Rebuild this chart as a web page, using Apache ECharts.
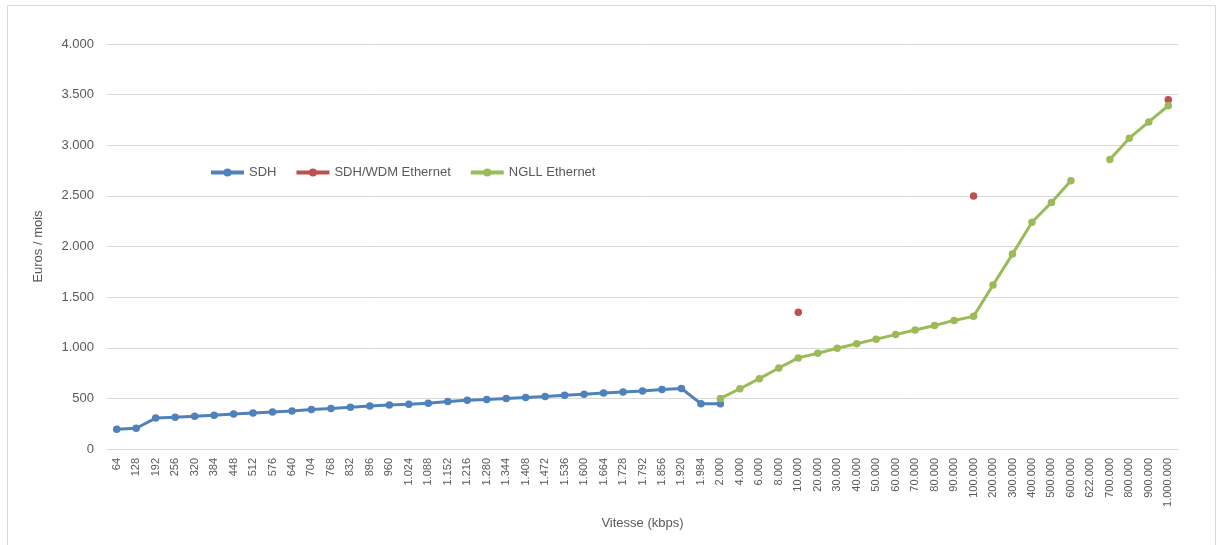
<!DOCTYPE html>
<html>
<head>
<meta charset="utf-8">
<script src="https://cdn.jsdelivr.net/npm/echarts@6/dist/echarts.min.js"></script>
<style>
  html, body { margin: 0; padding: 0; background: #ffffff; }
  #chart { width: 1221px; height: 545px; }
</style>
</head>
<body>
<div id="chart"></div>
<script>
// Line speeds (kbps), written with dot thousands separators
const speeds = [
  '64', '128', '192', '256', '320', '384', '448', '512', '576', '640',
  '704', '768', '832', '896', '960', '1.024', '1.088', '1.152', '1.216', '1.280',
  '1.344', '1.408', '1.472', '1.536', '1.600', '1.664', '1.728', '1.792', '1.856', '1.920',
  '1.984', '2.000', '4.000', '6.000', '8.000', '10.000', '20.000', '30.000', '40.000', '50.000',
  '60.000', '70.000', '80.000', '90.000', '100.000', '200.000', '300.000', '400.000', '500.000', '600.000',
  '622.000', '700.000', '800.000', '900.000', '1.000.000'
];

// Monthly price in euros per offer
const sdh = [
  195, 205, 305, 313, 323, 333, 346, 356, 366, 376,
  389, 399, 412, 425, 435, 442, 452, 468, 481, 488,
  498, 508, 518, 531, 541, 554, 564, 574, 587, 597,
  448, 448, null, null, null, null, null, null, null, null,
  null, null, null, null, null, null, null, null, null, null,
  null, null, null, null, null
];

const sdhWdmEthernet = [
  null, null, null, null, null, null, null, null, null, null,
  null, null, null, null, null, null, null, null, null, null,
  null, null, null, null, null, null, null, null, null, null,
  null, null, null, null, null, 1350, null, null, null, null,
  null, null, null, null, 2500, null, null, null, null, null,
  null, null, null, null, 3450
];

const ngllEthernet = [
  null, null, null, null, null, null, null, null, null, null,
  null, null, null, null, null, null, null, null, null, null,
  null, null, null, null, null, null, null, null, null, null,
  null, 500, 595, 695, 800, 900, 945, 995, 1040, 1085,
  1130, 1175, 1220, 1270, 1310, 1620, 1925, 2240, 2435, 2650,
  null, 2860, 3070, 3230, 3390
];

const yTicks = { min: 0, max: 4000, interval: 500 };

const textColor = '#595959';
const gridColor = '#d9d9d9';
const fontFamily = '"Liberation Sans", Arial, sans-serif';

function thousands(v) {
  return String(v).replace(/\B(?=(\d{3})+(?!\d))/g, '.');
}

function lineSeries(name, data, color) {
  return {
    name: name,
    type: 'line',
    data: data,
    color: color,
    symbol: 'circle',
    symbolSize: 7.5,
    showSymbol: true,
    connectNulls: false,
    lineStyle: { width: 3, color: color },
    itemStyle: { color: color },
    emphasis: { disabled: true },
    animation: false
  };
}

const chart = echarts.init(document.getElementById('chart'), null, { renderer: 'canvas' });

chart.setOption({
  backgroundColor: '#ffffff',
  textStyle: { fontFamily: fontFamily, color: textColor },
  graphic: [{
    type: 'rect',
    shape: { x: 7.5, y: 5.5, width: 1208, height: 600 },
    style: { fill: 'none', stroke: gridColor, lineWidth: 1 },
    silent: true,
    z: -1
  }],
  legend: {
    left: 204,
    top: 161,
    itemWidth: 33,
    itemHeight: 10,
    itemGap: 18,
    lineStyle: { width: 4 },
    textStyle: { fontSize: 13, color: textColor, fontFamily: fontFamily },
    data: ['SDH', 'SDH/WDM Ethernet', 'NGLL Ethernet']
  },
  grid: { left: 107, right: 43, top: 44, bottom: 96, containLabel: false },
  xAxis: {
    type: 'category',
    data: speeds,
    boundaryGap: true,
    name: 'Vitesse (kbps)',
    nameLocation: 'middle',
    nameGap: 68,
    nameTextStyle: { fontSize: 13, color: textColor },
    axisLine: { show: true, lineStyle: { color: gridColor, width: 1 } },
    axisTick: { show: false },
    axisLabel: {
      interval: 0,
      rotate: 90,
      fontSize: 11,
      color: textColor,
      margin: 9
    },
    splitLine: { show: false }
  },
  yAxis: {
    type: 'value',
    min: yTicks.min,
    max: yTicks.max,
    interval: yTicks.interval,
    name: 'Euros / mois',
    nameLocation: 'middle',
    nameGap: 62,
    nameTextStyle: { fontSize: 13, color: textColor },
    axisLine: { show: false },
    axisTick: { show: false },
    axisLabel: {
      fontSize: 13,
      color: textColor,
      margin: 13,
      formatter: thousands
    },
    splitLine: { lineStyle: { color: gridColor, width: 1 } }
  },
  series: [
    lineSeries('SDH', sdh, '#4f81bd'),
    lineSeries('SDH/WDM Ethernet', sdhWdmEthernet, '#c0504d'),
    lineSeries('NGLL Ethernet', ngllEthernet, '#9bbb59')
  ]
});
</script>
</body>
</html>
